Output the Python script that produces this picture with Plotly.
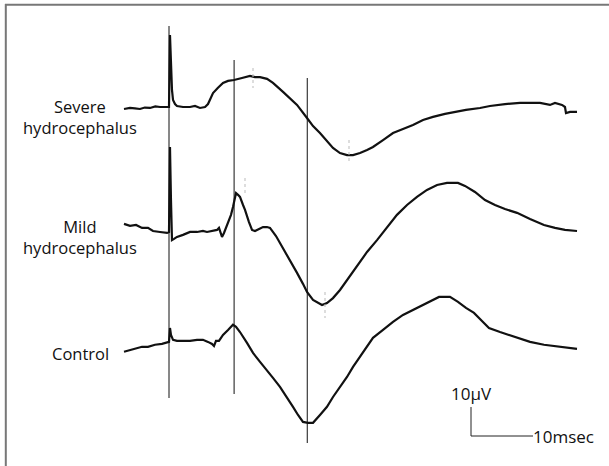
import plotly.graph_objects as go

# ---------------- data (latency in ms from stimulus, amplitude in microvolts) ----------------
severe_t = [-7.26, -6.29, -5.5, -4.68, -3.9, -3.06, -2.2, -1.45, -0.16, 0.0, 0.16, 0.32, 0.48, 0.65, 0.97, 1.29,
            2.26, 3.39, 4.19, 5.0, 5.81, 6.29, 7.10, 7.90, 8.71, 9.52, 10.48, 11.77, 13.06, 13.87, 14.68,
            15.81, 16.77, 18.39, 19.52, 20.65, 22.26, 23.23, 24.35, 25.48, 26.45, 27.58, 28.71, 29.68,
            30.81, 31.94, 32.90, 34.52, 36.13, 37.74, 39.35, 40.97, 42.58, 44.52, 46.13, 47.90, 50.16,
            51.77, 54.19, 56.61, 58.23, 59.84, 61.45, 62.26, 63.39, 63.87, 64.03, 64.68, 65.16, 65.81]
severe_uv = [-0.69, -0.34, -0.5, -0.69, -0.2, -0.34, 0.2, 0.0, 0.0, 0.0, 24.8, 14.5, 5.9, 2.4, 1.0, 0.34,
             0.0, 0.0, 0.34, -0.34, 0.0, 1.0, 4.8, 6.6, 8.3, 9.0, 9.3, 10.0, 10.7, 10.3, 10.3,
             9.7, 8.3, 5.2, 3.1, 0.7, -3.8, -6.6, -9.0, -11.7, -14.1, -15.9, -16.6, -16.6,
             -15.9, -14.8, -13.8, -11.4, -9.0, -7.6, -6.2, -4.5, -3.4, -2.4, -1.7, -1.0, -0.34,
             0.34, 1.0, 1.4, 1.4, 1.4, 0.7, 1.4, 0.7, 0.0, -2.1, -1.7, -1.7, -1.7]

mild_t = [-7.26, -6.29, -5.32, -4.35, -3.39, -2.58, -1.45, -0.32, 0.0, 0.16, 0.32, 0.40, 0.48, 0.81, 1.29,
          2.26, 3.39, 4.52, 5.48, 6.13, 6.94, 7.74, 8.06, 8.39, 8.55, 8.87, 9.52, 10.0, 10.32, 10.81,
          11.13, 11.45, 11.94, 12.26, 12.90, 13.39, 13.87, 14.52, 15.16, 15.81, 16.29, 17.26, 18.39,
          19.52, 20.65, 21.61, 22.26, 23.23, 24.03, 24.68, 25.48, 26.45, 27.58, 28.71, 30.32, 31.94,
          33.55, 35.16, 36.77, 38.39, 40.0, 41.61, 43.23, 44.84, 46.61, 47.74, 49.35, 50.97, 52.58,
          54.19, 56.13, 58.23, 60.48, 62.26, 63.87, 65.81]
mild_uv = [2.8, 2.1, 2.4, 1.4, 1.4, 0.34, 0.0, -0.34, 0.0, 29.3, 11.0, -2.8, -2.8, -2.4, -1.7,
           -1.0, 0.0, 0.0, 0.34, 0.0, 0.34, 0.7, 1.4, -0.34, -1.7, -0.34, 3.1, 5.9, 8.6, 13.4,
           12.8, 12.1, 9.3, 7.6, 3.4, 0.7, 0.34, 1.0, 1.7, 1.7, 1.4, -1.4, -5.5,
           -9.7, -14.1, -17.9, -20.7, -23.4, -24.5, -25.2, -24.5, -22.8, -20.0, -16.6, -11.7, -6.9,
           -2.8, 1.7, 5.9, 9.3, 12.1, 14.5, 16.2, 16.9, 16.9, 15.9, 13.8, 11.0, 9.3,
           7.9, 6.6, 4.5, 2.4, 1.4, 0.7, 0.34]

control_t = [-7.26, -6.29, -5.32, -4.35, -3.39, -2.26, -1.13, -0.32, 0.0, 0.16, 0.32, 0.65, 1.29, 2.26,
             3.39, 4.52, 5.48, 6.29, 6.94, 7.26, 7.58, 8.06, 8.71, 9.52, 10.32, 10.81, 11.45, 12.58,
             13.55, 14.68, 15.81, 16.77, 17.90, 19.03, 20.0, 20.81, 21.61, 22.42, 23.23, 24.35, 25.48,
             26.45, 27.58, 28.71, 29.68, 30.81, 31.94, 32.90, 34.52, 36.13, 37.74, 39.35, 40.97, 42.58,
             43.55, 45.32, 46.61, 47.90, 49.19, 50.48, 51.61, 53.39, 56.13, 58.23, 60.48, 63.06, 64.68, 65.81]
control_uv = [-3.4, -2.8, -2.4, -1.7, -1.7, -1.0, -0.7, 0.0, 0.0, 4.8, 2.4, 0.7, 0.34, 0.34,
              0.34, 0.7, 0.7, 0.0, -0.7, -1.4, 0.34, 0.34, 2.4, 4.1, 5.9, 5.2, 3.4, -0.34,
              -3.8, -6.9, -9.7, -12.4, -15.5, -19.0, -22.4, -25.2, -27.6, -27.9, -27.9, -25.2, -22.4,
              -19.0, -15.5, -12.1, -8.6, -5.2, -1.7, 1.4, 4.1, 6.9, 9.3, 11.0, 12.8, 14.5,
              15.5, 15.5, 13.8, 11.7, 10.0, 7.2, 4.8, 3.4, 1.4, 0.0, -1.0, -1.7, -2.1, -2.4]

group_names = ["Severe", "Mild", "Control"]
group_labels = ["Severe<br>hydrocephalus", "Mild<br>hydrocephalus", "Control"]
marker_latencies = [0.0, 10.5, 22.3]          # vertical reference lines (ms)
scale_ms = 10
scale_uv = 10
scale_labels = ["10\u00b5V", "10msec"]

# ---------------- layout constants ----------------
W, H = 609, 466
PX_PER_MS = 6.2
PX_PER_UV = 2.9
STIM_PX = 169
trace_offsets = [123.8, 80.7, 42.8]           # vertical stacking of traces (uV)
x_range = [-STIM_PX / PX_PER_MS, (W - STIM_PX) / PX_PER_MS]
y_range = [0, H / PX_PER_UV]


def px_y(py):
    return (H - py) / PX_PER_UV


def px_x(px):
    return (px - STIM_PX) / PX_PER_MS


fig = go.Figure()
series = [(severe_t, severe_uv), (mild_t, mild_uv), (control_t, control_uv)]
for (t, uv), off, name in zip(series, trace_offsets, group_names):
    fig.add_trace(go.Scatter(x=t, y=[v + off for v in uv], mode="lines", name=name,
                             line=dict(color="#111111", width=2.2), hoverinfo="skip"))

shapes = []
marker_extents = [(26, 398), (60, 394), (78, 443)]
for lat, (top, bot) in zip(marker_latencies, marker_extents):
    shapes.append(dict(type="line", xref="x", yref="y", x0=lat, x1=lat, y0=px_y(top), y1=px_y(bot),
                       line=dict(color="#111111", width=1)))

# faint dotted marks from original print
for (mx, top, bot) in [(253, 68, 88), (349, 140, 162), (245, 178, 196), (325, 292, 318)]:
    shapes.append(dict(type="line", xref="x", yref="y", x0=px_x(mx), x1=px_x(mx), y0=px_y(top), y1=px_y(bot),
                       line=dict(color="#bbbbbb", width=1, dash="dot")))

# scale bar
sb_t0, sb_v0 = px_x(471), px_y(436)
shapes.append(dict(type="line", xref="x", yref="y", x0=sb_t0, x1=sb_t0, y0=sb_v0, y1=sb_v0 + scale_uv,
                   line=dict(color="#222222", width=1)))
shapes.append(dict(type="line", xref="x", yref="y", x0=sb_t0, x1=sb_t0 + scale_ms, y0=sb_v0, y1=sb_v0,
                   line=dict(color="#222222", width=1)))

# frame (top & left)
shapes.append(dict(type="line", xref="paper", yref="paper", x0=5 / W, x1=1, y0=1 - 4.8 / H, y1=1 - 4.8 / H,
                   line=dict(color="#777777", width=2)))
shapes.append(dict(type="line", xref="paper", yref="paper", x0=5.8 / W, x1=5.8 / W, y0=0, y1=1 - 4 / H,
                   line=dict(color="#777777", width=2)))

font = dict(family="Open Sans", size=17, color="#111111")
label_font = dict(family="Open Sans", size=16.5, color="#111111")
annotations = []
label_centers = [117, 236.5, 353]
for txt, yy in zip(group_labels, label_centers):
    annotations.append(dict(x=px_x(80), y=px_y(yy), xref="x", yref="y", text=txt, showarrow=False,
                            xanchor="center", yanchor="middle", align="center", font=label_font))
annotations.append(dict(x=sb_t0, y=px_y(393), xref="x", yref="y", text=scale_labels[0], showarrow=False,
                        xanchor="center", yanchor="middle", font=font))
annotations.append(dict(x=sb_t0 + scale_ms, y=sb_v0, xref="x", yref="y", text=scale_labels[1], showarrow=False,
                        xanchor="left", yanchor="middle", xshift=-2, font=font))

fig.update_layout(
    width=W, height=H, margin=dict(l=0, r=0, t=0, b=0),
    paper_bgcolor="white", plot_bgcolor="white", showlegend=False,
    xaxis=dict(range=x_range, visible=False, fixedrange=True),
    yaxis=dict(range=y_range, visible=False, fixedrange=True),
    shapes=shapes, annotations=annotations,
)

fig.write_html("out.html", config={"displayModeBar": False},
               post_script="document.body.style.margin='0';document.body.style.overflow='hidden';")
